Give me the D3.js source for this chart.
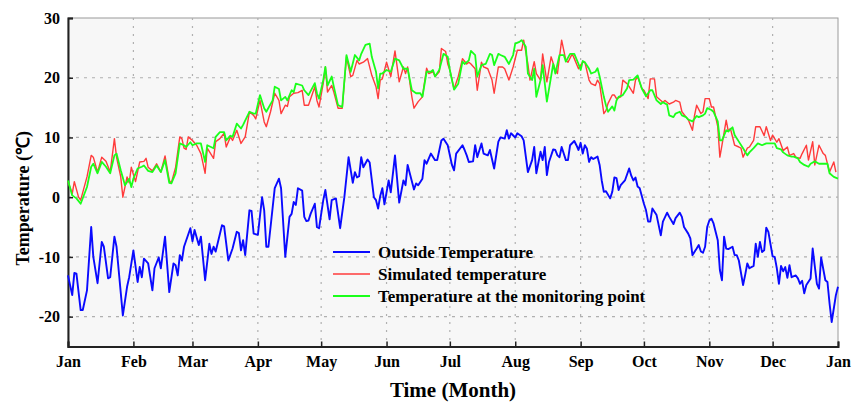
<!DOCTYPE html>
<html>
<head>
<meta charset="utf-8">
<script src="https://cdn.jsdelivr.net/npm/d3@7"></script>
<style>
  html, body { margin: 0; padding: 0; background: #fff; }
  svg { display: block; }
  text { font-family: "Liberation Serif", "Times New Roman", serif; font-weight: bold; fill: #000; }
</style>
</head>
<body>
<svg id="chart" width="852" height="405"></svg>
<script>
// Month tick labels (day-of-year positions computed from month lengths)
const monthLabels = ["Jan","Feb","Mar","Apr","May","Jun","Jul","Aug","Sep","Oct","Nov","Dec","Jan"];
const monthStarts = [0,31,59,90,120,151,181,212,243,273,304,334,365];
const yTicks = [-20,-10,0,10,20,30];

// Outside temperature (day of year, °C)
const outsideDays = [0,2,3,4,6,7,9,11,12,14,16,17,19,20,22,23,26,28,29,31,33,34,35,36,38,40,41,43,44,46,48,50,51,52,53,54,55,58,59,60,62,63,65,67,68,69,70,73,74,76,78,80,81,82,83,84,86,87,88,90,92,93,94,95,98,100,101,103,105,106,107,108,109,111,112,113,114,115,117,118,119,121,122,124,125,127,129,131,133,135,136,137,138,139,140,142,143,145,146,147,148,149,150,152,153,155,157,159,160,161,164,165,166,168,169,170,172,174,175,177,178,180,182,183,184,187,188,189,190,192,193,194,196,197,199,200,202,204,205,207,208,209,210,212,213,215,216,218,220,221,222,224,225,226,227,228,230,231,232,233,234,236,237,238,240,241,242,243,244,245,246,247,248,249,251,252,253,254,255,257,258,259,260,261,262,264,266,267,268,269,270,271,273,274,275,276,277,279,281,282,284,285,287,288,290,291,292,294,295,296,298,299,300,301,302,303,304,305,306,308,309,310,311,312,313,315,316,317,318,320,321,322,323,325,326,327,328,329,330,331,332,334,335,336,337,338,339,340,341,342,343,345,346,347,348,349,350,352,353,355,356,357,359,360,361,362,364,365];
const outsideTemps = [-13.1,-16.4,-12.7,-12.8,-18.9,-18.9,-15.6,-5.0,-10.0,-14.4,-7.5,-8.3,-13.6,-13.4,-6.6,-8.3,-19.8,-15.0,-13.4,-8.9,-14.2,-11.7,-13.4,-10.3,-11.1,-15.6,-11.9,-10.1,-11.9,-6.6,-15.9,-11.1,-11.4,-13.1,-9.7,-10.6,-8.3,-5.2,-7.4,-5.5,-8.0,-6.6,-13.9,-7.8,-9.5,-8.3,-9.1,-4.7,-4.9,-10.6,-8.6,-5.8,-6.0,-8.9,-7.2,-9.7,-2.2,-2.3,-6.1,-6.3,0.0,-2.2,-8.3,-8.3,1.5,3.1,1.5,-10.0,-3.3,-2.8,-0.8,-1.3,1.5,1.1,-3.3,-4.0,-3.9,-2.8,-1.1,-5.0,-5.2,-0.5,1.2,-3.7,-0.5,-0.2,-5.2,0.0,6.7,2.4,4.2,3.3,3.5,6.7,5.0,6.3,5.8,0.0,-0.5,-1.9,0.2,1.5,-1.2,2.8,0.8,7.0,-0.9,2.8,2.0,5.4,1.3,2.3,2.0,3.1,6.2,5.6,7.3,6.2,6.2,9.5,9.8,8.7,5.4,4.5,7.3,8.7,7.9,7.0,5.9,6.0,8.7,6.7,9.0,7.3,7.0,7.9,4.8,9.3,10.0,9.8,11.2,9.8,10.7,10.0,10.7,10.2,9.5,4.2,6.2,8.4,4.0,7.6,6.2,8.4,3.7,5.9,8.0,7.9,7.0,6.7,8.4,6.2,6.2,8.7,9.4,8.7,7.9,9.1,7.3,8.7,8.1,5.9,6.7,6.4,6.8,5.4,2.8,0.9,1.0,-0.2,0.9,3.3,3.2,1.2,2.0,2.8,4.8,3.6,2.8,3.3,1.8,1.5,-1.1,-2.2,-4.1,-4.1,-1.9,-3.0,-6.4,-4.1,-2.6,-3.3,-4.5,-3.5,-2.6,-3.3,-5.0,-6.1,-6.9,-9.7,-8.6,-8.0,-9.1,-9.3,-8.3,-5.0,-3.9,-3.6,-4.4,-7.2,-12.2,-13.9,-6.6,-8.6,-8.7,-8.3,-9.7,-9.7,-10.6,-14.7,-13.0,-11.1,-11.9,-11.5,-7.8,-10.0,-7.5,-9.2,-8.9,-5.1,-5.8,-9.9,-10.0,-11.9,-14.5,-11.5,-12.4,-11.7,-13.5,-11.4,-13.4,-13.1,-13.6,-14.5,-14.0,-16.1,-14.7,-13.6,-8.6,-14.5,-15.3,-10.1,-13.9,-14.2,-17.8,-20.9,-16.4,-15.0];

// Simulated temperature (day of year, °C)
const simDays = [0,2,3,5,6,9,11,12,14,16,18,20,22,23,25,26,28,29,30,32,34,36,37,38,40,42,44,46,48,49,51,53,54,55,56,57,59,61,63,65,66,69,70,72,74,75,77,78,80,82,84,86,88,89,91,93,94,96,98,100,101,103,104,105,107,109,111,112,114,117,118,119,121,122,123,125,126,128,130,132,134,135,137,138,140,142,144,146,147,148,149,151,153,155,157,159,160,161,163,164,166,168,170,171,173,174,176,177,179,180,181,183,185,187,189,190,191,193,194,196,197,199,201,202,204,206,207,209,211,213,215,216,218,219,221,222,224,225,227,229,231,232,234,236,237,239,240,242,243,244,245,247,248,250,251,252,254,255,256,258,259,260,262,263,265,266,268,269,270,272,273,275,276,278,279,281,282,283,285,287,288,290,291,293,294,296,297,298,300,301,302,304,305,306,308,309,310,312,313,314,316,318,319,320,322,323,325,326,328,330,331,333,334,336,337,339,341,342,344,345,347,348,350,351,353,354,356,358,359,361,363,364];
const simTemps = [2.6,0.6,2.6,0.0,-0.5,3.4,7.0,6.7,4.2,6.7,6.0,4.2,9.8,6.7,3.4,0.0,3.4,2.4,5.0,2.6,5.9,6.0,6.5,5.0,4.4,5.6,4.2,6.9,2.8,2.4,5.0,10.1,9.8,8.2,8.0,10.1,9.5,8.7,7.3,4.0,8.2,6.5,9.3,9.8,10.7,8.4,10.1,9.5,11.2,9.0,10.1,14.3,13.7,13.1,16.2,12.6,11.8,14.3,17.4,16.2,14.0,15.4,15.2,16.8,17.4,17.5,17.9,15.4,15.4,18.5,16.2,15.1,19.1,21.8,17.6,18.7,17.6,14.9,14.9,23.5,20.2,20.4,22.9,22.3,22.6,23.2,20.4,18.5,16.5,19.6,19.8,22.6,20.2,24.5,19.3,21.8,20.7,21.8,16.8,14.9,16.0,16.8,21.6,20.7,21.0,20.2,21.0,24.9,24.4,22.3,21.3,18.1,20.2,23.2,22.3,22.6,22.3,21.5,17.9,22.6,21.8,21.5,19.6,17.4,21.8,21.8,21.5,19.6,21.8,24.6,24.6,26.3,22.3,19.6,22.7,20.7,19.6,24.0,19.3,23.5,21.3,20.7,26.3,22.9,22.6,24.0,23.2,21.5,22.1,22.6,22.6,19.6,19.0,18.7,19.6,19.0,14.0,14.5,15.7,17.1,17.1,16.5,16.8,19.6,19.0,18.5,17.4,19.6,20.2,18.2,17.9,16.5,19.8,19.8,16.8,16.2,15.9,16.2,15.6,15.9,16.2,15.9,14.3,13.4,13.0,11.2,13.7,15.4,14.0,14.3,16.5,16.5,15.1,15.1,11.8,6.7,8.7,12.9,11.0,11.5,8.7,8.4,8.2,6.7,8.2,8.4,9.5,11.8,11.8,10.3,11.8,9.5,10.4,9.2,9.8,7.8,8.4,7.0,7.3,6.7,6.5,7.3,8.7,6.2,9.3,5.4,8.7,7.3,7.0,4.2,5.9,4.2];

// Temperature at the monitoring point (day of year, °C)
const monDays = [0,2,4,6,9,11,12,14,16,18,20,22,23,25,27,29,30,31,33,35,36,38,40,42,44,46,48,49,51,53,55,56,58,59,61,63,65,66,69,70,72,74,75,77,78,80,82,83,86,88,89,91,93,94,97,98,100,101,103,104,106,107,108,111,112,114,117,118,119,121,122,123,125,126,128,130,132,134,136,138,139,141,143,144,146,147,148,149,151,153,155,157,159,161,163,165,167,168,170,172,173,174,176,178,180,181,183,185,187,188,190,191,193,194,196,198,200,201,202,204,205,207,209,211,212,214,215,217,218,220,221,222,224,225,227,229,230,231,233,235,236,238,240,242,243,244,245,247,248,250,251,252,254,255,256,258,259,260,261,263,265,266,268,270,271,272,274,276,277,279,281,282,284,285,287,288,290,291,293,294,296,298,299,301,302,303,305,306,308,309,310,312,313,315,316,318,320,322,323,325,327,329,331,333,335,336,338,339,341,343,344,346,347,349,351,352,354,356,357,359,360,361,363,365];
const monTemps = [2.8,0.3,-0.2,-1.1,1.7,5.1,5.6,4.0,5.9,5.1,4.0,7.0,7.3,4.5,2.0,3.1,1.7,3.1,4.8,5.1,5.3,4.4,4.2,5.3,4.2,6.2,2.4,2.3,4.0,9.0,8.7,8.4,9.2,8.7,9.0,9.0,5.9,8.7,8.2,10.1,10.9,10.9,9.5,10.3,10.1,12.3,11.5,12.1,14.3,14.0,14.0,17.1,14.9,14.3,16.2,18.5,18.1,16.2,16.8,16.2,17.9,17.6,19.0,18.7,17.9,17.1,19.1,17.4,16.5,19.6,21.8,18.7,20.2,18.5,15.4,15.1,23.8,21.0,23.8,22.9,24.0,25.5,25.7,23.5,21.0,18.2,20.7,20.7,21.3,21.0,23.2,22.9,21.5,21.5,17.9,17.4,17.4,16.8,21.0,21.0,21.3,20.2,21.3,24.0,23.5,21.3,18.0,19.0,22.7,22.3,22.9,24.5,23.8,20.2,22.1,22.3,24.0,23.8,22.1,24.0,23.8,23.5,22.3,23.8,25.7,26.0,26.3,25.2,20.7,19.6,21.5,16.8,19.6,22.1,16.0,20.2,22.3,20.7,23.8,23.8,22.7,24.0,24.0,22.3,21.3,22.8,22.6,21.5,20.7,21.0,21.6,20.2,16.8,15.4,14.3,15.2,14.5,16.2,16.8,17.1,18.2,19.6,19.7,20.4,19.3,18.2,16.9,17.9,17.9,16.2,15.6,15.9,15.5,13.7,13.4,14.0,14.3,13.7,13.4,13.0,12.7,13.6,13.4,13.7,14.0,14.9,14.6,14.3,12.7,9.5,9.5,11.2,11.0,11.7,10.4,9.3,8.2,7.0,7.5,8.2,9.0,8.7,9.0,9.0,9.0,8.2,8.0,7.5,7.0,6.8,6.8,6.5,5.9,5.4,5.1,5.6,6.0,5.6,5.6,5.6,5.6,4.0,3.4,3.1];

const svg = d3.select("#chart");
const plot = { left: 68, right: 838, top: 18, bottom: 346.5 };

const x = d3.scaleLinear().domain([0, 365]).range([plot.left, plot.right]);
const y = d3.scaleLinear().domain([-25, 30]).range([plot.bottom, plot.top]);

// plot background
svg.append("rect")
  .attr("x", plot.left).attr("y", plot.top)
  .attr("width", plot.right - plot.left).attr("height", plot.bottom - plot.top)
  .attr("fill", "#f7f7f7")
  .attr("stroke", "#9a9a9a").attr("stroke-width", 1);

// grid
const grid = svg.append("g");
grid.selectAll("line.h").data(yTicks.filter(d => d < 30)).join("line")
  .attr("x1", plot.left).attr("x2", plot.right)
  .attr("y1", d => y(d)).attr("y2", d => y(d))
  .attr("stroke", "#b0b0b0").attr("stroke-width", 1.2).attr("stroke-dasharray", "3,5");
grid.selectAll("line.v").data(monthStarts.slice(1, -1)).join("line")
  .attr("x1", d => x(d)).attr("x2", d => x(d))
  .attr("y1", plot.top).attr("y2", plot.bottom)
  .attr("stroke", "#b0b0b0").attr("stroke-width", 1.2).attr("stroke-dasharray", "2,6");

// axes
const xAxis = d3.axisBottom(x).tickValues(monthStarts)
  .tickFormat((d, i) => monthLabels[i]).tickSize(-5).tickPadding(9);
const yAxis = d3.axisLeft(y).tickValues(yTicks).tickSize(-5).tickPadding(8)
  .tickFormat(d => d);

const gx = svg.append("g").attr("transform", `translate(0,${plot.bottom})`).call(xAxis);
const gy = svg.append("g").attr("transform", `translate(${plot.left},0)`).call(yAxis);
[gx, gy].forEach(g => {
  g.select(".domain").attr("stroke", "#222").attr("stroke-width", 2);
  g.selectAll(".tick line").attr("stroke", "#222").attr("stroke-width", 1.5);
  g.selectAll(".tick text").attr("font-size", 16).attr("font-family", "Liberation Serif").attr("font-weight", "bold").attr("fill", "#000");
});

// lines
const line = (days, temps) => d3.line().x((d, i) => x(days[i])).y((d, i) => y(temps[i]))(temps);
svg.append("path").attr("d", line(outsideDays, outsideTemps))
  .attr("fill", "none").attr("stroke", "#0a0aff").attr("stroke-width", 1.9).attr("stroke-linejoin", "round");
svg.append("path").attr("d", line(simDays, simTemps))
  .attr("fill", "none").attr("stroke", "#ff3b3b").attr("stroke-width", 1.4).attr("stroke-linejoin", "round");
svg.append("path").attr("d", line(monDays, monTemps))
  .attr("fill", "none").attr("stroke", "#1aff1a").attr("stroke-width", 1.8).attr("stroke-linejoin", "round");

// legend
const legendItems = [
  { label: "Outside Temperature", color: "#0a0aff", w: 1.9 },
  { label: "Simulated temperature", color: "#ff3b3b", w: 1.4 },
  { label: "Temperature at the monitoring point", color: "#1aff1a", w: 1.8 }
];
const lg = svg.append("g").attr("transform", "translate(333,252)");
lg.selectAll("g").data(legendItems).join("g")
  .attr("transform", (d, i) => `translate(0,${i * 22})`)
  .each(function (d) {
    const g = d3.select(this);
    g.append("line").attr("x1", 0).attr("x2", 37).attr("stroke", d.color).attr("stroke-width", d.w);
    g.append("text").attr("x", 45).attr("dy", "0.35em").attr("font-size", 17).text(d.label);
  });

// axis titles
svg.append("text")
  .attr("transform", `translate(29,${(plot.top + plot.bottom) / 2 + 16}) rotate(-90)`)
  .attr("text-anchor", "middle").attr("font-size", 18)
  .text("Temperature (℃)");
svg.append("text")
  .attr("x", (plot.left + plot.right) / 2).attr("y", 397)
  .attr("text-anchor", "middle").attr("font-size", 21)
  .text("Time (Month)");
</script>
</body>
</html>
